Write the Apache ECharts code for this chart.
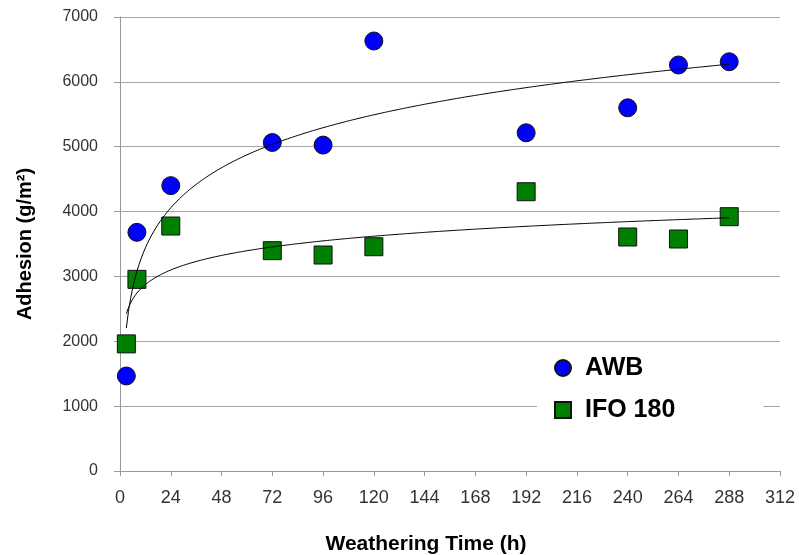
<!DOCTYPE html>
<html><head><meta charset="utf-8">
<script src="https://cdn.jsdelivr.net/npm/echarts@6/dist/echarts.min.js"></script>
<style>html,body{margin:0;padding:0;background:#fff}#c{width:799px;height:555px}</style>
</head><body><div id="c"></div>
<script>
var hours = [3, 8, 24, 72, 96, 120, 192, 240, 264, 288];
var awb = [1465, 3680, 4400, 5065, 5025, 6630, 5215, 5600, 6260, 6310];
var ifo180 = [1960, 2955, 3777, 3397, 3330, 3458, 4306, 3608, 3577, 3921];
var seriesNames = ['AWB', 'IFO 180'];

// Logarithmic least-squares trendline (as in the original spreadsheet chart)
function logFit(xs, ys) {
  var n = xs.length, lx = xs.map(Math.log);
  var mx = lx.reduce(function(a,b){return a+b;},0)/n;
  var my = ys.reduce(function(a,b){return a+b;},0)/n;
  var sxy = 0, sxx = 0;
  for (var i = 0; i < n; i++) { sxy += (lx[i]-mx)*(ys[i]-my); sxx += (lx[i]-mx)*(lx[i]-mx); }
  var a = sxy/sxx, b = my - a*mx;
  var pts = [];
  var x0 = xs[0], x1 = xs[n-1];
  for (var x = x0; x <= x1; x += 1) pts.push([x, a*Math.log(x)+b]);
  return pts;
}
function pairs(xs, ys){ return xs.map(function(x,i){return [x, ys[i]];}); }

var chart = echarts.init(document.getElementById('c'));
chart.setOption({
  animation: false,
  backgroundColor: '#fff',
  grid: { left: 120, right: 19, top: 17, bottom: 84, outerBoundsMode: 'none', containLabel: false },
  legend: {
    data: [{name: seriesNames[0], icon: 'circle'}, {name: seriesNames[1], icon: 'rect'}],
    orient: 'vertical', left: 537, top: 347,
    backgroundColor: '#fff',
    padding: [8, 88, 8, 17],
    itemWidth: 16, itemHeight: 16, itemGap: 16,
    textStyle: { fontFamily: 'Liberation Sans', fontWeight: 'bold', fontSize: 25, lineHeight: 26, color: '#000', padding: [0, 0, 0, 9] }
  },
  xAxis: {
    type: 'value', min: 0, max: 312, interval: 24,
    name: 'Weathering Time (h)', nameLocation: 'middle', nameGap: 63,
    nameTextStyle: { fontFamily: 'Liberation Sans', fontWeight: 'bold', fontSize: 21, color: '#000', padding: [0, 48, 0, 0] },
    axisLine: { lineStyle: { color: '#999', width: 1 } },
    axisTick: { show: true, length: 5, lineStyle: { color: '#999' } },
    axisLabel: { margin: 18, fontFamily: 'Liberation Sans', fontSize: 18, color: '#333' },
    splitLine: { show: false }
  },
  yAxis: {
    type: 'value', min: 0, max: 7000, interval: 1000,
    name: 'Adhesion (g/m²)', nameLocation: 'middle', nameGap: 85,
    nameTextStyle: { fontFamily: 'Liberation Sans', fontWeight: 'bold', fontSize: 20, color: '#000' },
    axisLine: { show: true, lineStyle: { color: '#999', width: 1 } },
    axisTick: { show: true, length: 6, lineStyle: { color: '#999' } },
    axisLabel: { margin: 22, fontFamily: 'Liberation Sans', fontSize: 16, color: '#333', padding: [3, 0, 0, 0],
                 formatter: function(v){ return String(v); } },
    splitLine: { show: true, lineStyle: { color: '#a6a6a6', width: 1 } }
  },
  series: [
    { name: 'AWB trend', type: 'line', data: logFit(hours, awb), showSymbol: false, smooth: false,
      lineStyle: { color: '#000', width: 1 }, z: 3, silent: true },
    { name: 'IFO trend', type: 'line', data: logFit(hours, ifo180), showSymbol: false, smooth: false,
      lineStyle: { color: '#000', width: 1 }, z: 3, silent: true },
    { name: seriesNames[0], type: 'scatter', data: pairs(hours, awb), symbol: 'circle', symbolSize: 18,
      itemStyle: { color: '#0000ff', borderColor: '#111', borderWidth: 1, opacity: 1 }, z: 2 },
    { name: seriesNames[1], type: 'scatter', data: pairs(hours, ifo180), symbol: 'rect', symbolSize: 18,
      itemStyle: { color: '#008000', borderColor: '#111', borderWidth: 1, opacity: 1 }, z: 2 }
  ]
});
</script></body></html>
